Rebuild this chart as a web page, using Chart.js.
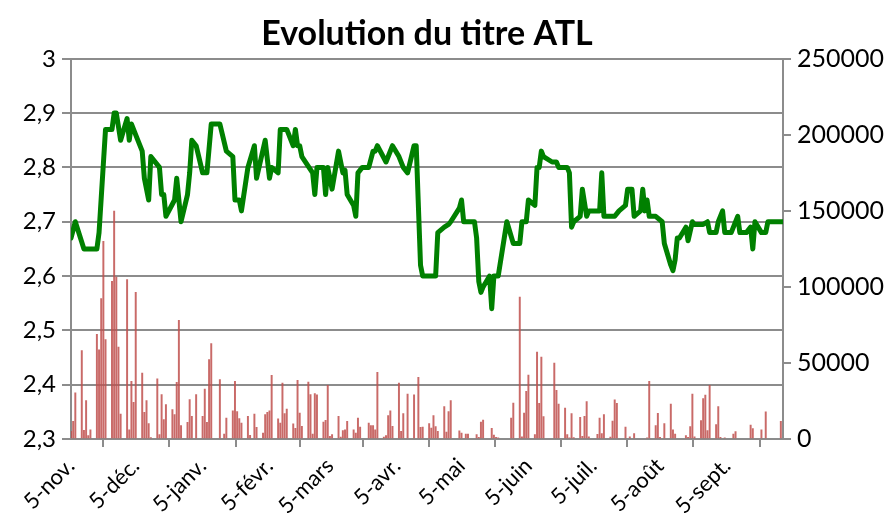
<!DOCTYPE html>
<html lang="fr">
<head>
  <meta charset="UTF-8">
  <title>Evolution du titre ATL</title>
  <script src="https://cdn.jsdelivr.net/npm/chart.js"></script>
  <style>
    html, body { margin: 0; padding: 0; background: #fff; }
    #chartContainer { width: 892px; height: 516px; }
  </style>
</head>
<body>
  <div id="chartContainer">
    <canvas id="atlChart"></canvas>
  </div>

  <script>
    // Cours de clôture (dinars)
    const datesCours = [
      '2008-11-05','2008-11-07','2008-11-11','2008-11-17','2008-11-18','2008-11-21','2008-11-24','2008-11-25','2008-11-26','2008-11-28',
      '2008-12-01','2008-12-02','2008-12-03','2008-12-05','2008-12-08','2008-12-09','2008-12-11','2008-12-12','2008-12-16','2008-12-17',
      '2008-12-18','2008-12-19','2008-12-23','2008-12-24','2008-12-26','2008-12-29','2008-12-30','2008-12-31','2009-01-02','2009-01-05',
      '2009-01-07','2009-01-09','2009-01-13','2009-01-16','2009-01-19','2009-01-20','2009-01-22','2009-01-23','2009-01-26','2009-01-29',
      '2009-01-30','2009-02-03','2009-02-05','2009-02-06','2009-02-09','2009-02-10','2009-02-13','2009-02-16','2009-02-17','2009-02-18',
      '2009-02-19','2009-02-20','2009-02-25','2009-02-26','2009-02-27','2009-03-02','2009-03-03','2009-03-04','2009-03-06','2009-03-09',
      '2009-03-11','2009-03-12','2009-03-13','2009-03-16','2009-03-17','2009-03-18','2009-03-20','2009-03-23','2009-03-25','2009-03-26',
      '2009-03-27','2009-03-31','2009-04-03','2009-04-06','2009-04-08','2009-04-10','2009-04-13','2009-04-14','2009-04-16','2009-04-17',
      '2009-04-23','2009-04-24','2009-04-27','2009-04-29','2009-04-30','2009-05-04','2009-05-05','2009-05-06','2009-05-11','2009-05-12',
      '2009-05-13','2009-05-14','2009-05-15','2009-05-18','2009-05-19','2009-05-20','2009-05-22','2009-05-26','2009-05-29','2009-06-01',
      '2009-06-02','2009-06-04','2009-06-05','2009-06-08','2009-06-09','2009-06-10','2009-06-11','2009-06-12','2009-06-16','2009-06-18',
      '2009-06-19','2009-06-23','2009-06-24','2009-06-25','2009-06-26','2009-06-29','2009-06-30','2009-07-02','2009-07-03','2009-07-08',
      '2009-07-09','2009-07-10','2009-07-15','2009-07-17','2009-07-20','2009-07-21','2009-07-23','2009-07-24','2009-07-27','2009-07-28',
      '2009-07-29','2009-07-30','2009-07-31','2009-08-03','2009-08-06','2009-08-07','2009-08-10','2009-08-11','2009-08-12','2009-08-13',
      '2009-08-14','2009-08-17','2009-08-18','2009-08-20','2009-08-21','2009-08-25','2009-08-27','2009-08-28','2009-08-31','2009-09-01',
      '2009-09-03','2009-09-04','2009-09-07','2009-09-10','2009-09-11','2009-09-14','2009-09-16','2009-09-17','2009-09-18','2009-09-21',
      '2009-09-23','2009-09-24','2009-10-01'
    ];
    const cours = [
      2.67, 2.70, 2.65, 2.65, 2.68, 2.87, 2.87, 2.90, 2.90, 2.85,
      2.89, 2.85, 2.88, 2.86, 2.83, 2.78, 2.74, 2.82, 2.80, 2.75,
      2.75, 2.71, 2.74, 2.78, 2.70, 2.75, 2.79, 2.85, 2.84, 2.79,
      2.79, 2.88, 2.88, 2.83, 2.82, 2.74, 2.74, 2.72, 2.80, 2.84,
      2.78, 2.85, 2.78, 2.80, 2.79, 2.87, 2.87, 2.84, 2.87, 2.84,
      2.84, 2.82, 2.79, 2.75, 2.80, 2.80, 2.75, 2.80, 2.76, 2.83,
      2.79, 2.795, 2.75, 2.73, 2.71, 2.79, 2.80, 2.80, 2.83, 2.83,
      2.84, 2.81, 2.84, 2.82, 2.80, 2.79, 2.84, 2.84, 2.62, 2.60,
      2.60, 2.68, 2.69, 2.695, 2.70, 2.725, 2.74, 2.70, 2.70, 2.67,
      2.59, 2.57, 2.58, 2.60, 2.54, 2.60, 2.60, 2.70, 2.66, 2.66,
      2.70, 2.70, 2.74, 2.73, 2.80, 2.80, 2.83, 2.82, 2.81, 2.81,
      2.80, 2.80, 2.79, 2.69, 2.70, 2.71, 2.76, 2.71, 2.72, 2.72,
      2.79, 2.71, 2.71, 2.72, 2.73, 2.76, 2.76, 2.71, 2.72, 2.76,
      2.72, 2.74, 2.71, 2.71, 2.70, 2.66, 2.62, 2.61, 2.63, 2.67,
      2.67, 2.69, 2.665, 2.70, 2.695, 2.695, 2.70, 2.68, 2.68, 2.70,
      2.72, 2.68, 2.68, 2.71, 2.68, 2.68, 2.69, 2.65, 2.70, 2.68,
      2.68, 2.70, 2.70
    ];

    // Volumes échangés (titres)
    const datesVolume = [
      '2008-11-05','2008-11-06','2008-11-07','2008-11-10','2008-11-11','2008-11-12','2008-11-13','2008-11-14','2008-11-17','2008-11-18',
      '2008-11-19','2008-11-20','2008-11-21','2008-11-24','2008-11-25','2008-11-26','2008-11-27','2008-11-28','2008-12-01','2008-12-02',
      '2008-12-03','2008-12-04','2008-12-05','2008-12-08','2008-12-09','2008-12-10','2008-12-11','2008-12-12','2008-12-15','2008-12-16',
      '2008-12-17','2008-12-18','2008-12-19','2008-12-22','2008-12-23','2008-12-24','2008-12-25','2008-12-26','2008-12-29','2008-12-30',
      '2008-12-31','2009-01-02','2009-01-05','2009-01-06','2009-01-07','2009-01-08','2009-01-09','2009-01-13','2009-01-15','2009-01-16',
      '2009-01-19','2009-01-20','2009-01-21','2009-01-22','2009-01-23','2009-01-26','2009-01-27','2009-01-29','2009-01-30','2009-02-02',
      '2009-02-03','2009-02-04','2009-02-05','2009-02-06','2009-02-09','2009-02-10','2009-02-11','2009-02-12','2009-02-13','2009-02-16',
      '2009-02-17','2009-02-18','2009-02-19','2009-02-20','2009-02-23','2009-02-24','2009-02-25','2009-02-26','2009-02-27','2009-03-02',
      '2009-03-03','2009-03-04','2009-03-05','2009-03-06','2009-03-09','2009-03-10','2009-03-11','2009-03-12','2009-03-13','2009-03-16',
      '2009-03-17','2009-03-18','2009-03-19','2009-03-23','2009-03-24','2009-03-25','2009-03-26','2009-03-27','2009-03-30','2009-03-31',
      '2009-04-01','2009-04-02','2009-04-03','2009-04-06','2009-04-07','2009-04-08','2009-04-10','2009-04-13','2009-04-15','2009-04-16',
      '2009-04-17','2009-04-20','2009-04-21','2009-04-22','2009-04-23','2009-04-24','2009-04-27','2009-04-28','2009-04-29','2009-04-30',
      '2009-05-04','2009-05-05','2009-05-07','2009-05-08','2009-05-12','2009-05-13','2009-05-14','2009-05-15','2009-05-19','2009-05-20',
      '2009-05-21','2009-05-22','2009-05-28','2009-05-29','2009-06-01','2009-06-02','2009-06-03','2009-06-04','2009-06-05','2009-06-08',
      '2009-06-09','2009-06-10','2009-06-11','2009-06-12','2009-06-17','2009-06-18','2009-06-19','2009-06-22','2009-06-23','2009-06-24',
      '2009-06-25','2009-06-26','2009-06-29','2009-06-30','2009-07-01','2009-07-02','2009-07-03','2009-07-07','2009-07-08','2009-07-09',
      '2009-07-10','2009-07-13','2009-07-14','2009-07-15','2009-07-16','2009-07-20','2009-07-22','2009-07-24','2009-07-30','2009-07-31',
      '2009-08-03','2009-08-04','2009-08-05','2009-08-07','2009-08-10','2009-08-11','2009-08-12','2009-08-17','2009-08-18','2009-08-19',
      '2009-08-20','2009-08-21','2009-08-24','2009-08-25','2009-08-26','2009-08-27','2009-08-28','2009-08-31','2009-09-01','2009-09-02',
      '2009-09-04','2009-09-08','2009-09-09','2009-09-16','2009-09-17','2009-09-21','2009-09-23','2009-09-30'
    ];
    const volumes = [
      5000, 11600, 30300, 58100, 5700, 25200, 2200, 6100, 68900, 58600,
      92300, 130000, 65400, 103700, 149800, 106400, 60500, 16400, 104800, 6100,
      37900, 24100, 96500, 43400, 17500, 25200, 10100, 900, 39500, 2900,
      29200, 12700, 22600, 19300, 16000, 37300, 78100, 8800, 11000, 25900,
      14900, 29200, 14900, 32900, 11000, 52200, 62700, 39000, 3300, 13800,
      18600, 37900, 18000, 13400, 10500, 14900, 2400, 16400, 7700, 3900,
      16000, 17500, 18600, 41900, 13200, 10500, 36800, 16700, 19700, 9900,
      7000, 38600, 17100, 8300, 37500, 29200, 3300, 29800, 29000, 11200,
      12300, 35300, 1800, 2900, 14900, 1300, 5500, 6100, 11600, 6100,
      3900, 13800, 7900, 10500, 8800, 8800, 6100, 43900, 1300, 2200,
      15400, 18600, 8300, 36800, 5000, 16700, 29600, 29000, 40600, 7700,
      7900, 10100, 7200, 15400, 8100, 5000, 21300, 4600, 18000, 25200,
      5300, 3900, 3300, 3300, 2900, 1100, 11200, 12500, 7000, 2600,
      1100, 700, 13800, 23700, 93400, 1500, 17100, 31400, 42100, 2900,
      57200, 23500, 53900, 14700, 50000, 32000, 23000, 20400, 2900, 700,
      16700, 900, 14300, 1800, 14900, 24600, 1500, 3100, 13800, 3500,
      16000, 1300, 11800, 25700, 23500, 7900, 1500, 3500, 700, 37900,
      8800, 16900, 1100, 10100, 23000, 6100, 3300, 2200, 1100, 8100,
      29600, 1500, 12100, 26500, 28900, 5500, 35300, 9400, 21300, 1100,
      700, 3300, 4800, 9200, 6800, 6100, 17800, 11600
    ];

    // Graduations de l'axe des dates
    const datesGraduations = ['2008-11-05','2008-12-05','2009-01-05','2009-02-05','2009-03-05','2009-04-05',
                              '2009-05-05','2009-06-05','2009-07-05','2009-08-05','2009-09-05'];
    const libellesGraduations = ['5-nov.','5-déc.','5-janv.','5-févr.','5-mars','5-avr.',
                                 '5-mai','5-juin','5-juil.','5-août','5-sept.'];
    const dateFin = '2009-10-01';

    // jours écoulés depuis le 5 novembre
    const t0 = Date.UTC(2008, 10, 5);
    function jour(s) {
      const p = s.split('-').map(Number);
      return Math.round((Date.UTC(p[0], p[1] - 1, p[2]) - t0) / 86400000);
    }

    const gris = '#8c8c8c';
    const police = 'Lato, "Open Sans", sans-serif';
    const posGraduations = datesGraduations.map(jour);

    const ctx = document.getElementById('atlChart').getContext('2d');
    new Chart(ctx, {
      data: {
        datasets: [{
          type: 'line',
          label: 'Cours',
          data: datesCours.map((d, i) => ({ x: jour(d), y: cours[i] })),
          borderColor: '#008000',
          borderWidth: 5,
          borderJoinStyle: 'round',
          borderCapStyle: 'round',
          pointRadius: 0,
          tension: 0,
          yAxisID: 'y',
          order: 0
        }, {
          type: 'bar',
          label: 'Volume',
          data: datesVolume.map((d, i) => ({ x: jour(d), y: volumes[i] })),
          backgroundColor: 'rgba(192,80,77,0.85)',
          barThickness: 1.3,
          yAxisID: 'y2',
          order: 1
        }]
      },
      options: {
        responsive: true,
        maintainAspectRatio: false,
        animation: false,
        events: [],
        plugins: {
          legend: { display: false },
          tooltip: { enabled: false },
          title: {
            display: true,
            fullSize: false,
            text: 'Evolution du titre ATL',
            color: '#000',
            font: { family: police, size: 34, weight: 'bold' },
            padding: { top: 14, bottom: 4 }
          }
        },
        scales: {
          x: {
            type: 'linear',
            min: 0,
            max: jour(dateFin),
            offset: false,
            afterBuildTicks: s => { s.ticks = posGraduations.map(v => ({ value: v })); },
            afterFit: s => { s.height = 77; },
            ticks: {
              autoSkip: false,
              minRotation: 45,
              maxRotation: 45,
              color: '#000',
              font: { family: police, size: 22 },
              padding: 6,
              callback: v => libellesGraduations[posGraduations.indexOf(v)]
            },
            grid: { drawOnChartArea: false, color: gris, lineWidth: 2, tickLength: 8 },
            border: { color: gris, width: 2 }
          },
          y: {
            position: 'left',
            min: 2.3,
            max: 3,
            afterBuildTicks: s => {
              const t = [];
              for (let v = 23; v <= 30; v++) t.push({ value: v / 10 });
              s.ticks = t;
            },
            afterFit: s => { s.width = 71; },
            ticks: {
              color: '#000',
              font: { family: police, size: 24 },
              padding: 6,
              callback: v => String(Number(v.toFixed(1))).replace('.', ',')
            },
            grid: { color: gris, lineWidth: 2, tickLength: 9 },
            border: { color: gris, width: 2 }
          },
          y2: {
            position: 'right',
            min: 0,
            max: 250000,
            afterFit: s => { s.width = 109; },
            ticks: {
              stepSize: 50000,
              color: '#000',
              font: { family: police, size: 25 },
              padding: 6,
              callback: v => String(v)
            },
            grid: { drawOnChartArea: false, color: gris, lineWidth: 2, tickLength: 8 },
            border: { color: gris, width: 2 }
          }
        }
      }
    });
  </script>
</body>
</html>
